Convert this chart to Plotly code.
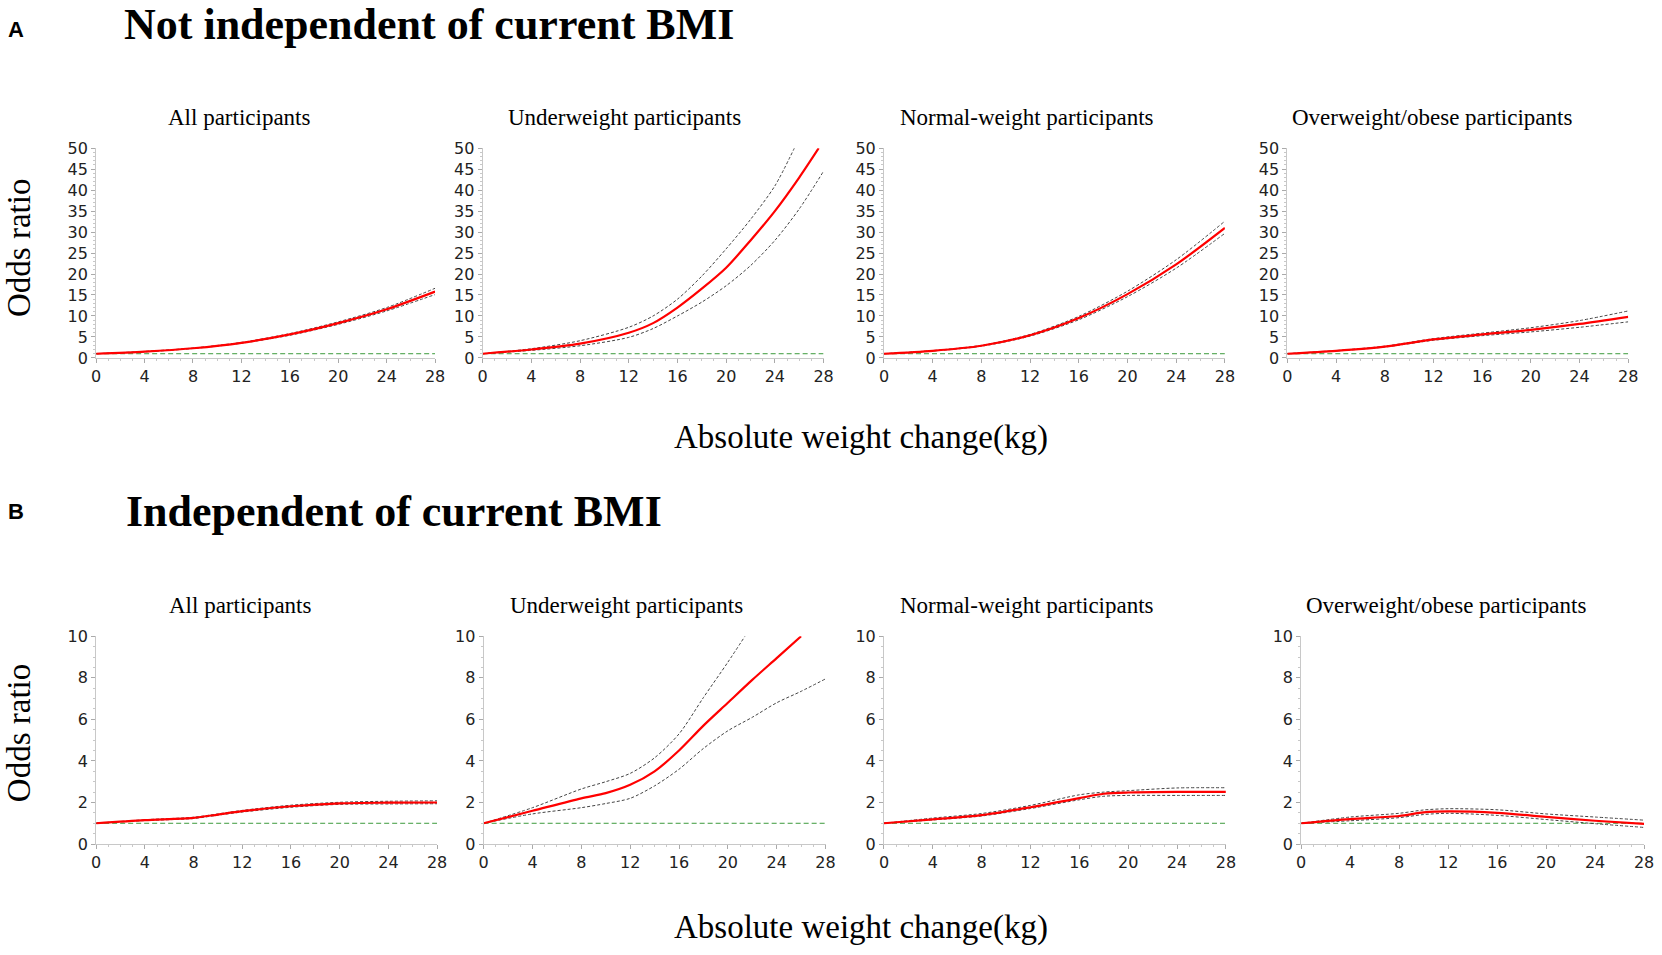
import plotly.graph_objects as go

W, H = 1662, 955

# ---- data ---------------------------------------------------------------
ref_or = 1.0

# A: not independent of current BMI
a_all_x = [0, 4, 8, 12, 16, 20, 24, 28]
a_all_or = [1.0, 1.5, 2.3, 3.6, 5.6, 8.3, 11.6, 15.8]
a_all_up = [1.0, 1.55, 2.35, 3.7, 5.8, 8.6, 12.0, 16.6]
a_all_lo = [1.0, 1.45, 2.25, 3.5, 5.4, 8.0, 11.2, 15.1]

a_under_x = [0, 4, 8, 12, 14, 16, 18, 20, 22, 24, 26, 27.6]
a_under_or = [1.0, 2.0, 3.4, 6.0, 8.3, 12.0, 16.5, 21.5, 28.0, 35.0, 43.0, 50.0]
a_under_up_x = [0, 4, 8, 12, 14, 16, 18, 20, 22, 24, 25.6]
a_under_up = [1.0, 2.2, 4.1, 7.3, 10.0, 14.0, 19.5, 26.0, 33.0, 41.0, 50.0]
a_under_lo_x = [0, 4, 8, 12, 14, 16, 18, 20, 22, 24, 26, 28]
a_under_lo = [1.0, 1.8, 2.9, 4.9, 7.0, 10.0, 13.3, 17.2, 22.0, 28.0, 35.5, 44.5]

a_normal_x = [0, 4, 8, 12, 16, 20, 24, 28]
a_normal_or = [1.0, 1.7, 2.9, 5.4, 9.5, 15.2, 22.3, 31.0]
a_normal_up = [1.0, 1.75, 3.0, 5.6, 9.9, 15.9, 23.4, 32.6]
a_normal_lo = [1.0, 1.65, 2.8, 5.2, 9.1, 14.6, 21.4, 29.7]

a_over_x = [0, 4, 8, 12, 16, 20, 24, 28]
a_over_or = [1.0, 1.7, 2.7, 4.4, 5.6, 6.7, 8.1, 9.8]
a_over_up = [1.0, 1.75, 2.8, 4.6, 5.9, 7.2, 8.9, 11.2]
a_over_lo = [1.0, 1.65, 2.6, 4.2, 5.3, 6.2, 7.3, 8.6]

# B: independent of current BMI
b_all_x = [0, 4, 8, 10, 12, 16, 20, 24, 28]
b_all_or = [1.0, 1.15, 1.26, 1.42, 1.58, 1.82, 1.96, 1.99, 2.0]
b_all_up = [1.0, 1.17, 1.29, 1.45, 1.62, 1.87, 2.01, 2.06, 2.08]
b_all_lo = [1.0, 1.13, 1.23, 1.39, 1.54, 1.77, 1.91, 1.93, 1.94]

b_under_x = [0, 4, 8, 10, 12, 14, 16, 18, 20, 22, 24, 26]
b_under_or = [1.0, 1.6, 2.2, 2.45, 2.85, 3.5, 4.5, 5.7, 6.8, 7.9, 8.95, 10.0]
b_under_up_x = [0, 4, 8, 10, 12, 14, 16, 18, 20, 21.4]
b_under_up = [1.0, 1.75, 2.65, 3.0, 3.4, 4.15, 5.3, 7.05, 8.75, 10.0]
b_under_lo_x = [0, 4, 8, 10, 12, 14, 16, 18, 20, 22, 24, 26, 28]
b_under_lo = [1.0, 1.45, 1.75, 1.95, 2.2, 2.8, 3.6, 4.6, 5.45, 6.1, 6.8, 7.35, 7.95]

b_normal_x = [0, 4, 8, 12, 16, 18, 20, 24, 28]
b_normal_or = [1.0, 1.19, 1.39, 1.77, 2.21, 2.42, 2.48, 2.51, 2.51]
b_normal_up = [1.0, 1.25, 1.47, 1.86, 2.37, 2.5, 2.57, 2.7, 2.71]
b_normal_lo = [1.0, 1.16, 1.35, 1.71, 2.13, 2.3, 2.34, 2.34, 2.34]

b_over_x = [0, 4, 8, 10, 12, 16, 20, 24, 28]
b_over_or = [1.0, 1.2, 1.35, 1.52, 1.57, 1.5, 1.31, 1.12, 0.97]
b_over_up = [1.0, 1.3, 1.48, 1.64, 1.7, 1.65, 1.45, 1.3, 1.15]
b_over_lo = [1.0, 1.12, 1.27, 1.42, 1.48, 1.38, 1.18, 0.98, 0.8]

panel_titles = ["All participants", "Underweight participants",
                "Normal-weight participants", "Overweight/obese participants"]
x_ticks = [0, 4, 8, 12, 16, 20, 24, 28]

# (x_or, or, x_up, up, x_lo, lo)
panels = [
    (a_all_x, a_all_or, a_all_x, a_all_up, a_all_x, a_all_lo),
    (a_under_x, a_under_or, a_under_up_x, a_under_up, a_under_lo_x, a_under_lo),
    (a_normal_x, a_normal_or, a_normal_x, a_normal_up, a_normal_x, a_normal_lo),
    (a_over_x, a_over_or, a_over_x, a_over_up, a_over_x, a_over_lo),
    (b_all_x, b_all_or, b_all_x, b_all_up, b_all_x, b_all_lo),
    (b_under_x, b_under_or, b_under_up_x, b_under_up, b_under_lo_x, b_under_lo),
    (b_normal_x, b_normal_or, b_normal_x, b_normal_up, b_normal_x, b_normal_lo),
    (b_over_x, b_over_or, b_over_x, b_over_up, b_over_x, b_over_lo),
]

# pixel boxes of the plot areas
x_px = [(92, 434), (482, 826), (887, 1231), (1294, 1638),
        (92, 436), (483, 828), (887, 1232), (1308, 1654)]
y_px_a = (142, 356)
y_px_b = (640, 852)

fig = go.Figure()
layout = dict(width=W, height=H, margin=dict(l=0, r=0, t=0, b=0),
              autosize=False, showlegend=False,
              plot_bgcolor="white", paper_bgcolor="white")

tick_font = dict(family="DejaVu Sans", size=16, color="#222")

for i, (xo, yo, xu, yu, xl, yl) in enumerate(panels):
    n = i + 1
    xa = "x" if n == 1 else f"x{n}"
    ya = "y" if n == 1 else f"y{n}"
    is_a = i < 4
    ypx = y_px_a if is_a else y_px_b

    fig.add_trace(go.Scatter(x=[0, 28], y=[ref_or, ref_or], mode="lines",
                             line=dict(color="#3c9a3c", width=1, dash="5px,3px"),
                             xaxis=xa, yaxis=ya, hoverinfo="skip"))
    for xs, ys in ((xu, yu), (xl, yl)):
        fig.add_trace(go.Scatter(x=xs, y=ys, mode="lines",
                                 line=dict(color="#444", width=1, dash="3px,2px",
                                           shape="spline", smoothing=0.8),
                                 xaxis=xa, yaxis=ya))
    fig.add_trace(go.Scatter(x=xo, y=yo, mode="lines",
                             line=dict(color="#ff0000", width=2.2,
                                       shape="spline", smoothing=0.8),
                             xaxis=xa, yaxis=ya))

    x0, x1 = x_px[i]
    layout["xaxis" if n == 1 else f"xaxis{n}"] = dict(
        domain=[x0 / W, x1 / W], anchor=ya, range=[0, 28],
        tickvals=x_ticks, ticks="outside", ticklen=4, tickcolor="#aaa",
        showline=True, linecolor="#c8c8c8", linewidth=1,
        showgrid=False, zeroline=False, tickfont=tick_font,
        minor=dict(dtick=1, ticks="outside", ticklen=2, tickcolor="#c8c8c8"),
    )
    layout["yaxis" if n == 1 else f"yaxis{n}"] = dict(
        domain=[1 - ypx[1] / H, 1 - ypx[0] / H], anchor=xa,
        range=[0, 50] if is_a else [0, 10],
        dtick=5 if is_a else 2, ticks="outside", ticklen=4, tickcolor="#aaa",
        showline=True, linecolor="#c8c8c8", linewidth=1,
        showgrid=False, zeroline=False, tickfont=tick_font,
        minor=dict(dtick=1 if is_a else 0.5, ticks="outside", ticklen=2,
                   tickcolor="#c8c8c8"),
    )

fig.update_layout(**layout)


def px_note(text, x, y, size, family="Liberation Serif", bold=False,
            xanchor="center", angle=0):
    if bold:
        text = f"<b>{text}</b>"
    fig.add_annotation(text=text, x=x / W, y=1 - y / H, xref="paper", yref="paper",
                       xanchor=xanchor, yanchor="middle", showarrow=False,
                       textangle=angle,
                       font=dict(family=family, size=size, color="black"))


# panel letters and headings
px_note("A", 1, 21, 22, family="Liberation Sans", bold=True, xanchor="left")
px_note("Not independent of current BMI", 118, 16, 44, bold=True, xanchor="left")
px_note("B", 1, 513, 22, family="Liberation Sans", bold=True, xanchor="left")
px_note("Independent of current BMI", 120, 513, 44, bold=True, xanchor="left")

# subplot titles
for t, cx in zip(panel_titles, [236, 625, 1031, 1440]):
    px_note(t, cx, 111, 23)
for t, cx in zip(panel_titles, [237, 627, 1031, 1454]):
    px_note(t, cx, 609, 23)

# axis titles
px_note("Odds ratio", 14, 244, 33, angle=-90)
px_note("Odds ratio", 14, 739, 33, angle=-90)
px_note("Absolute weight change(kg)", 864, 437, 33)
px_note("Absolute weight change(kg)", 864, 937, 33)

fig.write_html("out.html", config={"displayModeBar": False},
               post_script="document.body.style.margin='0';"
                           "document.body.style.overflow='hidden';")
